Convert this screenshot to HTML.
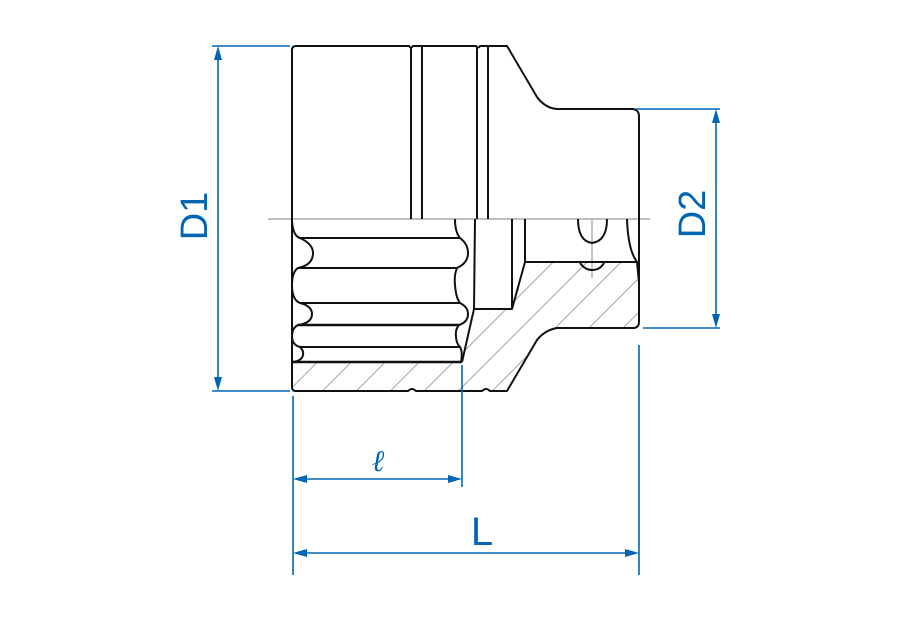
<!DOCTYPE html>
<html><head><meta charset="utf-8"><style>
html,body{margin:0;padding:0;background:#fff;}
svg{display:block;}
</style></head><body>
<svg width="900" height="630" viewBox="0 0 900 630" xmlns="http://www.w3.org/2000/svg">
<defs>
<pattern id="h" patternUnits="userSpaceOnUse" width="24" height="24" patternTransform="rotate(45)">
<line x1="0" y1="0" x2="0" y2="24" stroke="#999" stroke-width="1.8"/>
</pattern>
</defs>
<path d="M292,362 L462,362 L474,309 L512,309 L525,262 L627,262 L639,283 L639,322 Q639,328 633,328 L557,328 Q545,330 537,340 L507,391 L292,391 Z" fill="url(#h)"/>
<line x1="268" y1="219" x2="650" y2="219" stroke="#a8a8a8" stroke-width="1.6"/>
<line x1="592" y1="219" x2="592" y2="278" stroke="#a8a8a8" stroke-width="1.3"/>
<g fill="none" stroke="#111" stroke-width="2" stroke-linejoin="round">
<path d="M296,46 L409,46 Q411,49 413,46 L420,46 L476,46 Q478,49 480,46 L507,46 L537,97 Q545,108 557,109 L633,109 Q639,110 639,116 L639,322 Q639,328 633,328 L557,328 Q545,330 537,340 L507,391 L490,391 Q486,387 482,391 L416,391 Q412,387 408,391 L296,391 Q292,391 292,387 L292,50 Q292,46 296,46"/>
<line x1="411" y1="47" x2="411" y2="219"/>
<line x1="422" y1="47" x2="422" y2="219"/>
<line x1="477" y1="47" x2="477" y2="219"/>
<line x1="488" y1="47" x2="488" y2="219"/>
<line x1="300" y1="238" x2="460" y2="238"/>
<line x1="298" y1="268" x2="457" y2="268"/>
<line x1="300" y1="303" x2="460" y2="303"/>
<line x1="298" y1="325" x2="459" y2="325" stroke-width="2.5"/>
<line x1="300" y1="347" x2="460" y2="347"/>
<line x1="292" y1="362" x2="462" y2="362" stroke-width="2.5"/>
<path d="M292,221 Q293,236 300,238 Q313,244 313,253 Q313,265 298,268 Q292,272 292,285 Q292,300 300,303 Q312,306 312,314 Q312,323 298,325 Q292,328 292,336 Q292,345 300,347 Q304,351 303,355 Q302,361 292,362"/>
<path d="M455,219 Q455,232 460,238 Q468,244 468,253 Q468,263 457,268 Q454,275 455,285 Q456,298 460,303 Q468,307 468,314 Q468,322 459,325 Q455,330 456,336 Q456,343 460,347 Q463,352 461,362"/>
<path d="M462,362 L474,309 L475,219"/>
<path d="M475,309 L512,309 L512,219"/>
<path d="M512,309 L525,262 L525,219"/>
<line x1="525" y1="262" x2="637" y2="262"/>
<path d="M627,219 Q628,250 637,262 L639,283"/>
<path d="M578,219 Q578,241 592,243 Q607,241 607,219"/>
<path d="M580,263 Q585,270 592,270 Q600,270 604,263"/>
</g>
<g stroke="#0066b3" stroke-width="1.6" fill="none">
<line x1="212" y1="46" x2="290" y2="46"/>
<line x1="212" y1="391" x2="290" y2="391"/>
<line x1="218" y1="50" x2="218" y2="387"/>
<line x1="636" y1="109" x2="720" y2="109"/>
<line x1="643" y1="328" x2="720" y2="328"/>
<line x1="716" y1="113" x2="716" y2="324"/>
<line x1="293" y1="396" x2="293" y2="575"/>
<line x1="462" y1="365" x2="462" y2="487"/>
<line x1="639" y1="345" x2="639" y2="575"/>
<line x1="297" y1="479" x2="458" y2="479"/>
<line x1="297" y1="553" x2="635" y2="553"/>
</g>
<g fill="#0066b3">
<path d="M218,46 L214,60 L222,60 Z"/>
<path d="M218,391 L214,377 L222,377 Z"/>
<path d="M716,109 L712,123 L720,123 Z"/>
<path d="M716,328 L712,314 L720,314 Z"/>
<path d="M293,479 L307,475 L307,483 Z"/>
<path d="M462,479 L448,475 L448,483 Z"/>
<path d="M293,553 L307,549 L307,557 Z"/>
<path d="M639,553 L625,549 L625,557 Z"/>
</g>
<g fill="#0066b3" font-family="Liberation Sans, sans-serif">
<text x="0" y="0" font-size="38" text-anchor="middle" transform="translate(207,216) rotate(-90)">D1</text>
<text x="0" y="0" font-size="38" text-anchor="middle" transform="translate(705,214) rotate(-90)">D2</text>
<text x="482" y="545" font-size="40" text-anchor="middle">L</text>
<text x="378" y="471" font-size="30" font-style="italic" font-family="Liberation Serif, serif" text-anchor="middle">ℓ</text>
</g>
</svg>
</body></html>
